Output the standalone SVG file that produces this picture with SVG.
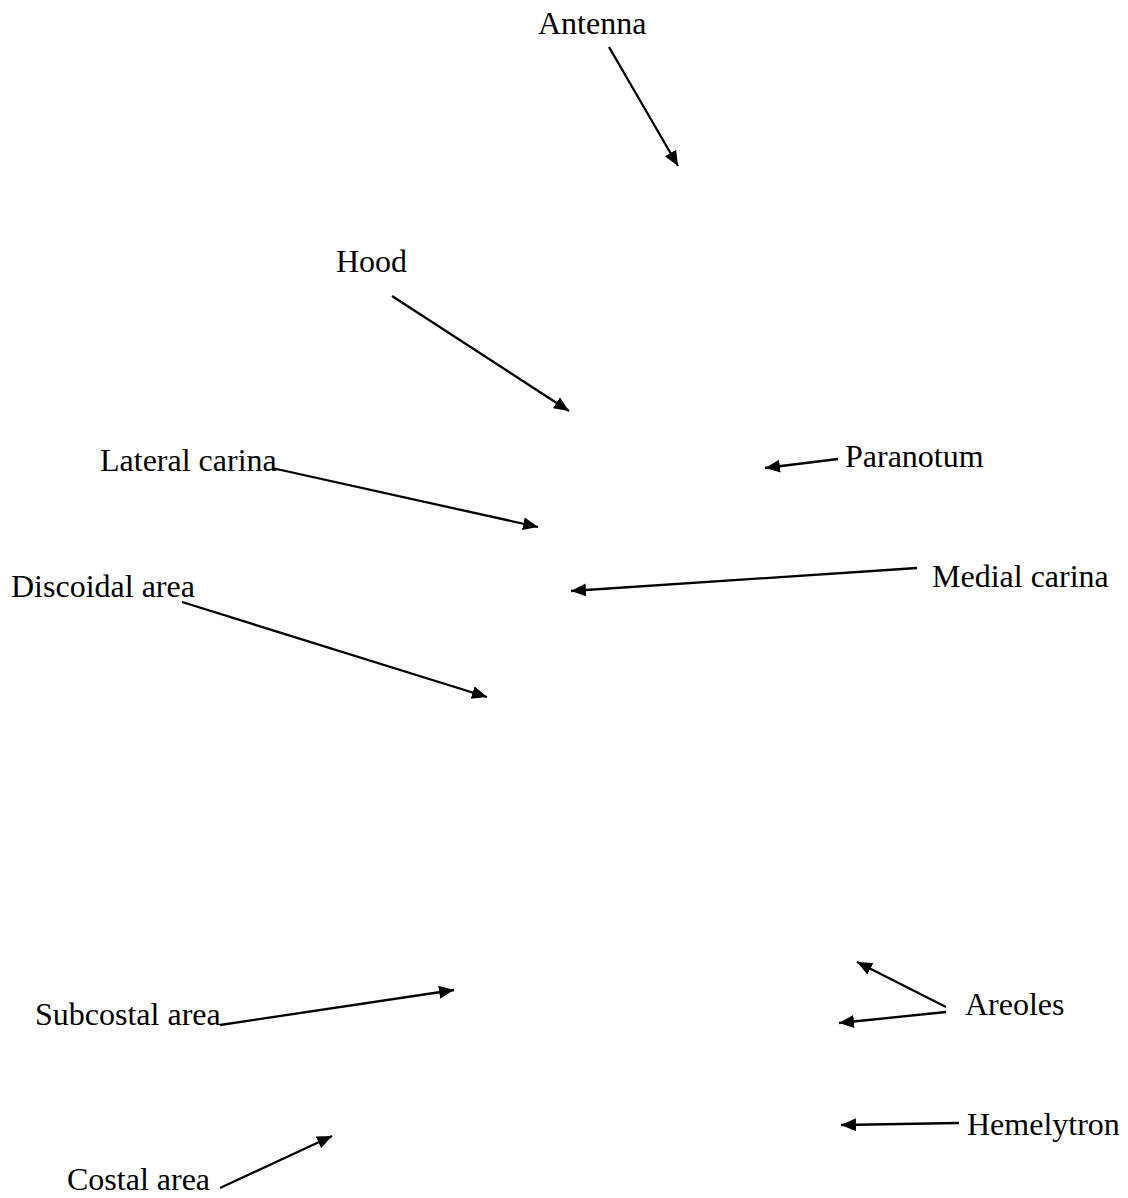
<svg xmlns="http://www.w3.org/2000/svg" width="1128" height="1198" viewBox="0 0 1128 1198">
<style>
  text { font-family: "Liberation Serif", "Times New Roman", serif; font-size: 32px; fill: #000; }
  .c line { stroke: #000; stroke-width: 2.3; marker-end: url(#ah); }
</style>
<defs>
  <marker id="ah" markerUnits="userSpaceOnUse" markerWidth="16" markerHeight="14" refX="15" refY="6.5" orient="auto">
    <path d="M0,0 L15,6.5 L0,13 Z" fill="#000"/>
  </marker>
</defs>
<rect width="1128" height="1198" fill="#fff"/>
<g id="antenna"><text x="538" y="34">Antenna</text></g>
<g id="hood"><text x="336" y="272">Hood</text></g>
<g id="lateral-carina"><text x="100" y="471">Lateral carina</text></g>
<g id="paranotum"><text x="845" y="467">Paranotum</text></g>
<g id="medial-carina"><text x="932" y="587">Medial carina</text></g>
<g id="discoidal-area"><text x="11" y="597">Discoidal area</text></g>
<g id="subcostal-area"><text x="35" y="1025">Subcostal area</text></g>
<g id="areoles"><text x="965" y="1015">Areoles</text></g>
<g id="hemelytron"><text x="967" y="1135">Hemelytron</text></g>
<g id="costal-area"><text x="67" y="1190">Costal area</text></g>
<g id="connectors" class="c">
  <line x1="609" y1="47" x2="678" y2="166"/>
  <line x1="392" y1="296" x2="569" y2="411"/>
  <line x1="272" y1="468" x2="538" y2="527"/>
  <line x1="838" y1="459" x2="765" y2="468"/>
  <line x1="917" y1="568" x2="571" y2="591"/>
  <line x1="182" y1="602" x2="487" y2="697"/>
  <line x1="220" y1="1025" x2="454" y2="990"/>
  <line x1="946" y1="1007" x2="857" y2="962"/>
  <line x1="946" y1="1012" x2="839" y2="1023"/>
  <line x1="959" y1="1123" x2="841" y2="1125"/>
  <line x1="220" y1="1188" x2="332" y2="1136"/>
</g>
</svg>
